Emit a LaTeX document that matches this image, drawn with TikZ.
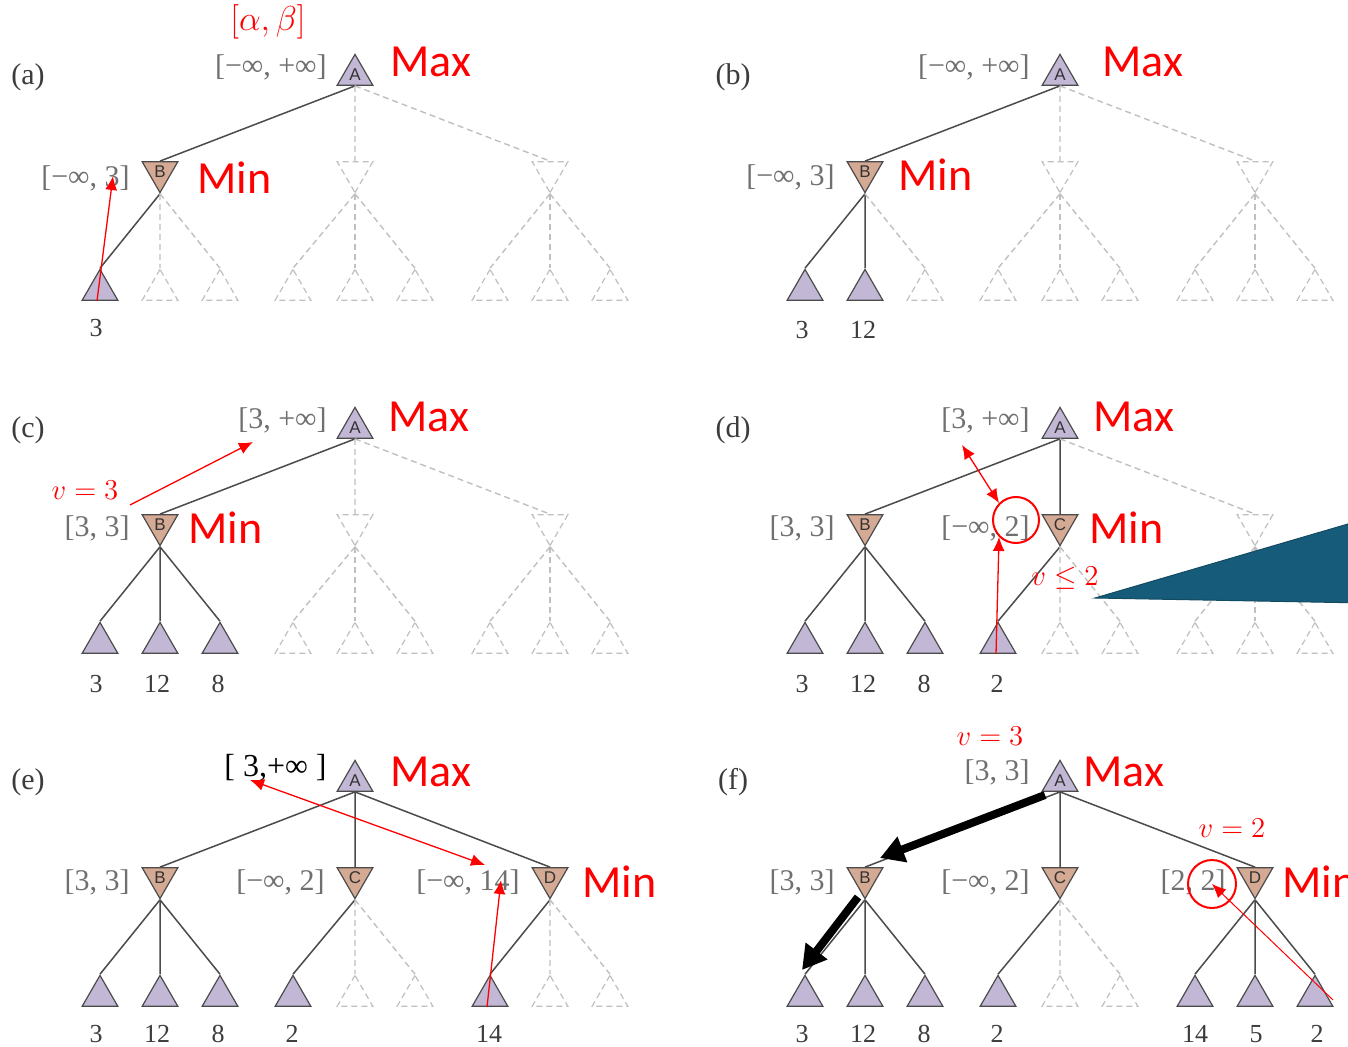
\documentclass[tikz,border=0pt]{standalone}
\usepackage{fontspec}
\setmainfont{Liberation Serif}
\newfontfamily\calibri{Carlito}
\newfontfamily\lettersans{Liberation Sans}
\usetikzlibrary{shapes.geometric,arrows.meta}

\definecolor{maxfill}{RGB}{194,184,214}
\definecolor{minfill}{RGB}{212,170,148}
\definecolor{nodeline}{RGB}{75,75,75}
\definecolor{branchgray}{RGB}{75,75,75}
\definecolor{prunegray}{RGB}{192,192,192}
\definecolor{boundgray}{RGB}{112,112,112}
\definecolor{valgray}{RGB}{60,60,60}
\definecolor{calloutblue}{RGB}{22,92,122}

\tikzset{
  maxnode/.style={regular polygon, regular polygon sides=3, minimum size=20.6pt,
    inner sep=0pt, draw=nodeline, line width=0.6pt, fill=maxfill, text=black!80,
    font=\lettersans\fontsize{8.5}{9}\selectfont},
  minnode/.style={maxnode, fill=minfill, shape border rotate=180},
  leafnode/.style={maxnode},
  ghostmin/.style={minnode, draw=prunegray, fill=none, dash pattern=on 3pt off 2pt},
  ghostleaf/.style={leafnode, draw=prunegray, fill=none, dash pattern=on 3pt off 2pt},
  branch/.style={draw=branchgray, line width=0.75pt},
  pruned/.style={draw=prunegray, line width=0.7pt, dash pattern=on 3pt off 2pt},
  bound/.style={anchor=east, inner sep=0pt, text=boundgray, font=\fontsize{15}{17}\selectfont},
  leafval/.style={inner sep=0pt, text=valgray, font=\fontsize{13}{15}\selectfont},
  panel/.style={inner sep=0pt, text=valgray, font=\fontsize{15}{17}\selectfont},
  player/.style={anchor=west, inner sep=0pt, text=red, font=\calibri\fontsize{23}{26}\selectfont},
  note/.style={inner sep=0pt, text=red, font=\fontsize{14.4}{16}\selectfont},
  redarrow/.style={red, line width=0.65pt, -{Latex[length=7pt,width=6pt]}},
  redboth/.style={red, line width=0.65pt, {Latex[length=7pt,width=6pt]}-{Latex[length=7pt,width=6pt]}},
  pathto/.style={black, line width=4pt, -{Triangle[length=12pt,width=13pt]}},
  ring/.style={circle, draw=red, line width=1pt, inner sep=0pt, minimum size=23pt}
}

\begin{document}
\begin{tikzpicture}[x=0.5pt,y=-0.5pt]
  \useasboundingbox[fill=white] (0,0) rectangle (1348,1047);

  % (a) first leaf
  \begin{scope}[name prefix=a-]
    \node[maxnode] (A) at (355,75) {A};
    \node[minnode] (B) at (160,172) {B};
    \node[ghostmin] (C) at (355,172) {};
    \node[ghostmin] (D) at (550,172) {};
    \foreach \n/\x/\s in {1/100/leafnode,2/160/ghostleaf,3/220/ghostleaf,4/293/ghostleaf,
      5/355/ghostleaf,6/415/ghostleaf,7/490/ghostleaf,8/550/ghostleaf,9/610/ghostleaf}
      \node[\s] (l\n) at (\x,290) {};
    \foreach \p/\c/\s in {A/B/branch,A/C/pruned,A/D/pruned,B/l1/branch,B/l2/pruned,B/l3/pruned,
      C/l4/pruned,C/l5/pruned,C/l6/pruned,D/l7/pruned,D/l8/pruned,D/l9/pruned}
      \draw[\s] (\p.south) -- (\c.north);
    \node[panel] at (28,77) {(a)};
    \node[note, font=\fontsize{17.28}{19}\selectfont] at (268,22) {$[\alpha, \beta]$};
    \node[bound] (bA) at (327,67) {[−∞, +∞]};
    \node[bound] (bB) at (130,178) {[−∞, 3]};
    \node[player] at (390,62) {Max};
    \node[player] at (197,178) {Min};
    \node[leafval] at (96,328) {3};
    \coordinate (tipB) at (113,176);
    \draw[redarrow] ([xshift=-1.5pt]l1.south) -- (tipB);
  \end{scope}

  % (b) second leaf
  \begin{scope}[shift={(705,0)}, name prefix=b-]
    \node[maxnode] (A) at (355,75) {A};
    \node[minnode] (B) at (160,172) {B};
    \node[ghostmin] (C) at (355,172) {};
    \node[ghostmin] (D) at (550,172) {};
    \foreach \n/\x/\s in {1/100/leafnode,2/160/leafnode,3/220/ghostleaf,4/293/ghostleaf,
      5/355/ghostleaf,6/415/ghostleaf,7/490/ghostleaf,8/550/ghostleaf,9/610/ghostleaf}
      \node[\s] (l\n) at (\x,290) {};
    \foreach \p/\c/\s in {A/B/branch,A/C/pruned,A/D/pruned,B/l1/branch,B/l2/branch,B/l3/pruned,
      C/l4/pruned,C/l5/pruned,C/l6/pruned,D/l7/pruned,D/l8/pruned,D/l9/pruned}
      \draw[\s] (\p.south) -- (\c.north);
    \node[panel] at (28,77) {(b)};
    \node[bound] at (325,67) {[−∞, +∞]};
    \node[bound] at (130,177) {[−∞, 3]};
    \node[player] at (397,62) {Max};
    \node[player] at (193,175) {Min};
    \node[leafval] at (97,330) {3};
    \node[leafval] at (158,330) {12};
  \end{scope}

  % (c) B is done
  \begin{scope}[shift={(0,353)}, name prefix=c-]
    \node[maxnode] (A) at (355,75) {A};
    \node[minnode] (B) at (160,172) {B};
    \node[ghostmin] (C) at (355,172) {};
    \node[ghostmin] (D) at (550,172) {};
    \foreach \n/\x/\s in {1/100/leafnode,2/160/leafnode,3/220/leafnode,4/293/ghostleaf,
      5/355/ghostleaf,6/415/ghostleaf,7/490/ghostleaf,8/550/ghostleaf,9/610/ghostleaf}
      \node[\s] (l\n) at (\x,290) {};
    \foreach \p/\c/\s in {A/B/branch,A/C/pruned,A/D/pruned,B/l1/branch,B/l2/branch,B/l3/branch,
      C/l4/pruned,C/l5/pruned,C/l6/pruned,D/l7/pruned,D/l8/pruned,D/l9/pruned}
      \draw[\s] (\p.south) -- (\c.north);
    \node[panel] at (28,77) {(c)};
    \node[bound] at (327,67) {[3, +∞]};
    \node[bound] at (130,175) {[3, 3]};
    \node[player] at (388,64) {Max};
    \node[player] at (188,175) {Min};
    \node[leafval] at (96,331) {3};
    \node[leafval] at (157,331) {12};
    \node[leafval] at (218,331) {8};
    \node[note] (vB) at (85,137) {$v = 3$};
    \coordinate (tipA) at (253,89);
    \draw[redarrow] (130,152) -- (tipA);
  \end{scope}

  % (d) C cut off
  \begin{scope}[shift={(705,353)}, name prefix=d-]
    \node[maxnode] (A) at (355,75) {A};
    \node[minnode] (B) at (160,172) {B};
    \node[minnode] (C) at (355,172) {C};
    \node[ghostmin] (D) at (550,172) {};
    \foreach \n/\x/\s in {1/100/leafnode,2/160/leafnode,3/220/leafnode,4/293/leafnode,
      5/355/ghostleaf,6/415/ghostleaf,7/490/ghostleaf,8/550/ghostleaf,9/610/ghostleaf}
      \node[\s] (l\n) at (\x,290) {};
    \foreach \p/\c/\s in {A/B/branch,A/C/branch,A/D/pruned,B/l1/branch,B/l2/branch,B/l3/branch,
      C/l4/branch,C/l5/pruned,C/l6/pruned,D/l7/pruned,D/l8/pruned,D/l9/pruned}
      \draw[\s] (\p.south) -- (\c.north);
    \node[panel] at (28,77) {(d)};
    \node[bound] at (325,67) {[3, +∞]};
    \node[bound] at (130,175) {[3, 3]};
    \node[bound] at (325,175) {[−∞, 2]};
    \node[player] at (388,64) {Max};
    \node[player] at (384,175) {Min};
    \node[leafval] at (97,331) {3};
    \node[leafval] at (158,331) {12};
    \node[leafval] at (219,331) {8};
    \node[leafval] at (292,331) {2};
    \node[ring] (circ) at (311,167) {};
    \coordinate (tipA) at (257,92);
    \draw[redboth] (tipA) -- (circ.north west);
    \draw[redarrow] ([xshift=-1pt]l4.south) -- (circ.south west);
    \node[note] at (360,225) {$v \leq 2$};
    % callout wedge
    \fill[calloutblue, draw=calloutblue!80!black, line width=0.5pt]
      (390,245) -- (660,166) -- (660,250) -- cycle;
  \end{scope}

  % (e) D after first leaf
  \begin{scope}[shift={(0,706)}, name prefix=e-]
    \node[maxnode] (A) at (355,75) {A};
    \node[minnode] (B) at (160,172) {B};
    \node[minnode] (C) at (355,172) {C};
    \node[minnode] (D) at (550,172) {D};
    \foreach \n/\x/\s in {1/100/leafnode,2/160/leafnode,3/220/leafnode,4/293/leafnode,
      5/355/ghostleaf,6/415/ghostleaf,7/490/leafnode,8/550/ghostleaf,9/610/ghostleaf}
      \node[\s] (l\n) at (\x,290) {};
    \foreach \p/\c/\s in {A/B/branch,A/C/branch,A/D/branch,B/l1/branch,B/l2/branch,B/l3/branch,
      C/l4/branch,C/l5/pruned,C/l6/pruned,D/l7/branch,D/l8/pruned,D/l9/pruned}
      \draw[\s] (\p.south) -- (\c.north);
    \node[panel] at (28,76) {(e)};
    \node[bound, text=black, font=\fontsize{16}{18}\selectfont] at (327,62) {[ 3,+∞ ]};
    \node[bound] at (130,176) {[3, 3]};
    \node[bound] at (325,176) {[−∞, 2]};
    \node[bound] (bD) at (520,176) {[−∞, 14]};
    \node[player] at (390,66) {Max};
    \node[player] at (582,176) {Min};
    \node[leafval] at (96,328) {3};
    \node[leafval] at (157,328) {12};
    \node[leafval] at (218,328) {8};
    \node[leafval] at (292,328) {2};
    \node[leafval] at (489,328) {14};
    \coordinate (tipA) at (250,74);
    \coordinate (tipD) at (485,159);
    \coordinate (tipB) at (501,174);
    \draw[redboth] (tipA) -- (tipD);
    \draw[redarrow] ([xshift=-1.5pt]l7.south) -- (tipB);
  \end{scope}

  % (f) final values
  \begin{scope}[shift={(705,706)}, name prefix=f-]
    \node[maxnode] (A) at (355,75) {A};
    \node[minnode] (B) at (160,172) {B};
    \node[minnode] (C) at (355,172) {C};
    \node[minnode] (D) at (550,172) {D};
    \foreach \n/\x/\s in {1/100/leafnode,2/160/leafnode,3/220/leafnode,4/293/leafnode,
      5/355/ghostleaf,6/415/ghostleaf,7/490/leafnode,8/550/leafnode,9/610/leafnode}
      \node[\s] (l\n) at (\x,290) {};
    \foreach \p/\c/\s in {A/B/branch,A/C/branch,A/D/branch,B/l1/branch,B/l2/branch,B/l3/branch,
      C/l4/branch,C/l5/pruned,C/l6/pruned,D/l7/branch,D/l8/branch,D/l9/branch}
      \draw[\s] (\p.south) -- (\c.north);
    \node[panel] at (28,76) {(f)};
    \node[note] at (285,30) {$v = 3$};
    \node[note] at (527,122) {$v = 2$};
    \node[bound] at (325,66) {[3, 3]};
    \node[bound] at (130,176) {[3, 3]};
    \node[bound] at (325,176) {[−∞, 2]};
    \node[bound] at (521,176) {[2, 2]};
    \node[player] at (378,66) {Max};
    \node[player] at (577,176) {Min};
    \node[leafval] at (97,328) {3};
    \node[leafval] at (158,328) {12};
    \node[leafval] at (219,328) {8};
    \node[leafval] at (292,328) {2};
    \node[leafval] at (490,328) {14};
    \node[leafval] at (551,328) {5};
    \node[leafval] at (612,328) {2};
    \node[ring, minimum size=24pt] (circ) at (507,178) {};
    \draw[redarrow, line width=0.5pt] ([shift={(9pt,-2pt)}]l9.center) -- (circ.center);
    % chosen path
    \coordinate (fromA) at (340,89);
    \coordinate (toB) at (175,152);
    \coordinate (fromB) at (153,191);
    \coordinate (toL) at (97,264);
    \draw[pathto] (fromA) -- (toB);
    \draw[pathto] (fromB) -- (toL);
  \end{scope}
\end{tikzpicture}
\end{document}
